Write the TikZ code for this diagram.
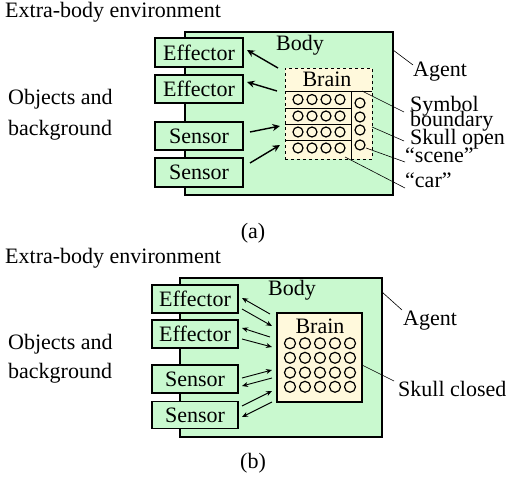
\documentclass[tikz,border=0pt]{standalone}
\usepackage{fontspec}
\setmainfont{Liberation Serif}
\usetikzlibrary{arrows.meta}
\definecolor{boxgreen}{HTML}{C9F9CF}
\definecolor{brainyellow}{HTML}{FFF9DC}
\begin{document}
\begin{tikzpicture}[x=1pt,y=-1pt,
  box/.style={draw, line width=1.4pt, fill=boxgreen, minimum width=88pt, minimum height=29pt, inner sep=0, font=\fontsize{22}{26}\selectfont},
  bodybox/.style={draw, line width=1.4pt, fill=boxgreen, inner sep=0},
  lbl/.style={inner sep=0, font=\fontsize{22}{26}\selectfont},
  neuron/.style={circle, draw, line width=1.2pt, minimum size=10pt, inner sep=0},
  lead/.style={line width=0.6pt},
  divider/.style={line width=0.8pt},
  arrA/.style={line width=1.4pt, -{Stealth[length=7.5pt,width=7pt]}},
  arrB/.style={line width=0.9pt, -{Stealth[length=6pt,width=5pt]}}]
\useasboundingbox (0,0) rectangle (507,479);

% ================= Panel (a) =================
\node[lbl, anchor=base west] (envA) at (5,17.5) {Extra-body environment};
\node[lbl, anchor=base west] (objA1) at (8,104) {Objects and};
\node[lbl, anchor=base west] (objA2) at (8,135) {background};

\node[bodybox, minimum width=208pt, minimum height=163pt] (bodyA) at (289,113.5) {};
\node[lbl] (bodyAlbl) at (300,45) {Body};

\node[box] (effA1) at (199,52.5) {Effector};
\node[box, minimum height=28pt] (effA2) at (199,89) {Effector};
\node[box, minimum height=28pt] (senA1) at (199,136) {Sensor};
\node[box] (senA2) at (199,172.5) {Sensor};

\node[draw, dashed, line width=0.9pt, fill=brainyellow, minimum width=87pt, minimum height=91pt, inner sep=0] (brainA) at (328.5,113.5) {};
\node[lbl] (brainAlbl) at (327,79) {Brain};
\draw[divider] (285,91) -- (372,91);
\draw[divider] (285,108) -- (351,108);
\draw[divider] (285,124) -- (351,124);
\draw[divider] (285,140) -- (351,140);
\draw[divider] (351,91) -- (351,159);
\foreach \r/\y in {1/99.5,2/116,3/132,4/148}{
  \foreach \c/\x in {1/298,2/312,3/326,4/340}{
    \node[neuron] (na-\r-\c) at (\x,\y) {};
  }
}
\foreach \r/\y in {1/103,2/117,3/130,4/145}{
  \node[neuron] (nr-\r) at (360,\y) {};
}

% arrows (a)
\coordinate (aA1s) at (278,68);  \coordinate (aA1e) at (247,50);
\coordinate (aA2s) at (277,91);  \coordinate (aA2e) at (247,82);
\coordinate (aS1s) at (250,132); \coordinate (aS1e) at (280,126);
\coordinate (aS2s) at (250,163); \coordinate (aS2e) at (280,145);
\draw[arrA] (aA1s) -- (aA1e);
\draw[arrA] (aA2s) -- (aA2e);
\draw[arrA] (aS1s) -- (aS1e);
\draw[arrA] (aS2s) -- (aS2e);

% labels (a)
\node[lbl, anchor=base west] (agentA) at (413,76) {Agent};
\node[lbl, anchor=base west] (symA1) at (410,111) {Symbol};
\node[lbl, anchor=base west] (symA2) at (410,126) {boundary};
\node[lbl, anchor=base west] (skullA) at (410,144) {Skull open};
\node[lbl, anchor=base west] (sceneA) at (405,162) {“scene”};
\node[lbl, anchor=base west] (carA) at (405,187) {“car”};

\coordinate (agAs) at (393,50);  \coordinate (agAe) at (413,65);
\coordinate (syAs) at (362,91);  \coordinate (syAe) at (404,112);
\coordinate (skAs) at (372,127); \coordinate (skAe) at (404,141);
\coordinate (scAs) at (366,148); \coordinate (scAe) at (405,162);
\coordinate (caAs) at (345,157); \coordinate (caAe) at (405,188);
\draw[lead] (agAs) -- (agAe);
\draw[lead] (syAs) -- (syAe);
\draw[lead] (skAs) -- (skAe);
\draw[lead] (scAs) -- (scAe);
\draw[lead] (caAs) -- (caAe);

\node[lbl, anchor=base] (capA) at (253,238) {(a)};

% ================= Panel (b) =================
\node[lbl, anchor=base west] (envB) at (5,263) {Extra-body environment};
\node[lbl, anchor=base west] (objB1) at (8,349) {Objects and};
\node[lbl, anchor=base west] (objB2) at (8,378) {background};

\node[bodybox, minimum width=202pt, minimum height=159pt] (bodyB) at (281,357.5) {};
\node[lbl] (bodyBlbl) at (292,290) {Body};

\node[box, minimum width=86pt, minimum height=28pt] (effB1) at (195,299) {Effector};
\node[box, minimum width=86pt, minimum height=28pt] (effB2) at (195,334) {Effector};
\node[box, minimum width=86pt, minimum height=28pt] (senB1) at (195,379) {Sensor};
\node[box, minimum width=86pt, minimum height=27pt] (senB2) at (195,415) {Sensor};

\node[draw, line width=1.4pt, fill=brainyellow, minimum width=85pt, minimum height=89pt, inner sep=0] (brainB) at (319.5,357.5) {};
\node[lbl] (brainBlbl) at (320,326) {Brain};
\foreach \r/\y in {1/343.3,2/357.8,3/372.6,4/386.8}{
  \foreach \c/\x in {1/290,2/305,3/320,4/335,5/350}{
    \node[neuron, minimum size=11pt] (nb-\r-\c) at (\x,\y) {};
  }
}

% arrows (b)
\coordinate (bE1a) at (270,314); \coordinate (bE1b) at (242,298);
\coordinate (bE1c) at (242,309); \coordinate (bE1d) at (272,326);
\coordinate (bE2a) at (270,337); \coordinate (bE2b) at (242,328);
\coordinate (bE2c) at (242,339); \coordinate (bE2d) at (272,347);
\coordinate (bS1a) at (242,378); \coordinate (bS1b) at (272,370);
\coordinate (bS1c) at (272,378); \coordinate (bS1d) at (242,386);
\coordinate (bS2a) at (242,406); \coordinate (bS2b) at (272,391);
\coordinate (bS2c) at (272,402); \coordinate (bS2d) at (242,417);
\draw[arrB] (bE1a) -- (bE1b);
\draw[arrB] (bE1c) -- (bE1d);
\draw[arrB] (bE2a) -- (bE2b);
\draw[arrB] (bE2c) -- (bE2d);
\draw[arrB] (bS1a) -- (bS1b);
\draw[arrB] (bS1c) -- (bS1d);
\draw[arrB] (bS2a) -- (bS2b);
\draw[arrB] (bS2c) -- (bS2d);

% labels (b)
\node[lbl, anchor=base west] (agentB) at (403,325) {Agent};
\node[lbl, anchor=base west] (skullB) at (398,396) {Skull closed};
\coordinate (agBs) at (382,292); \coordinate (agBe) at (402,310);
\coordinate (skBs) at (362,365); \coordinate (skBe) at (394,381);
\draw[lead] (agBs) -- (agBe);
\draw[lead] (skBs) -- (skBe);

\node[lbl, anchor=base] (capB) at (253,468) {(b)};
\end{tikzpicture}
\end{document}
